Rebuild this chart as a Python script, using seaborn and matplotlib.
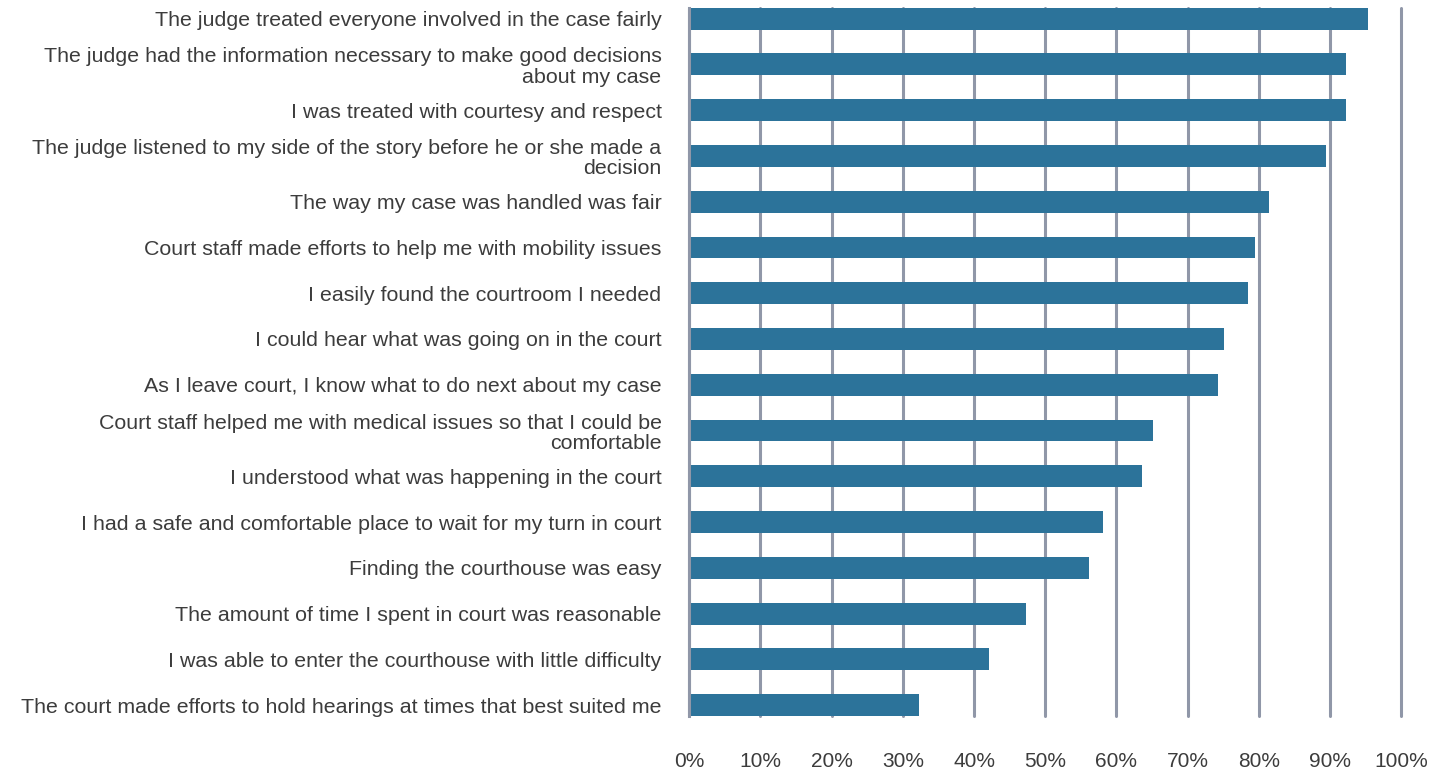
import matplotlib
matplotlib.use("Agg")
import matplotlib.pyplot as plt
import seaborn as sns
import pandas as pd
from matplotlib.ticker import FuncFormatter

statements = [
    "The judge treated everyone involved in the case fairly",
    "The judge had the information necessary to make good decisions\nabout my case",
    "I was treated with courtesy and respect",
    "The judge listened to my side of the story before he or she made a\ndecision",
    "The way my case was handled was fair",
    "Court staff made efforts to help me with mobility issues",
    "I easily found the courtroom I needed",
    "I could hear what was going on in the court",
    "As I leave court, I know what to do next about my case",
    "Court staff helped me with medical issues so that I could be\ncomfortable",
    "I understood what was happening in the court",
    "I had a safe and comfortable place to wait for my turn in court",
    "Finding the courthouse was easy",
    "The amount of time I spent in court was reasonable",
    "I was able to enter the courthouse with little difficulty",
    "The court made efforts to hold hearings at times that best suited me",
]
agree_pct = [95.3, 92.2, 92.2, 89.4, 81.4, 79.5, 78.4, 75.1,
             74.3, 65.1, 63.6, 58.1, 56.2, 47.3, 42.1, 32.2]
x_ticks = [0, 10, 20, 30, 40, 50, 60, 70, 80, 90, 100]

df = pd.DataFrame({"statement": statements, "pct": agree_pct})

sns.set_theme(style="white")
plt.rcParams["font.family"] = ["Liberation Sans", "DejaVu Sans"]

fig = plt.figure(figsize=(14.39, 7.72), dpi=100)
ax = fig.add_axes([0.4790, 0.0725, 0.4948, 0.9175])

bar_color = "#2c739a"
grid_color = "#9097a8"
text_color = "#3c3c3c"

sns.barplot(data=df, x="pct", y="statement", orient="h", color=bar_color,
            width=0.48, saturation=1, linewidth=0, ax=ax, zorder=3)

ax.set_xlim(0, 100)
ax.set_ylim(15.24, -0.24)
ax.set_xticks(x_ticks)
ax.xaxis.set_major_formatter(FuncFormatter(lambda v, p: f"{v:.0f}%"))
ax.grid(axis="x", color=grid_color, linewidth=2.2, zorder=0)
ax.grid(axis="y", visible=False)
ax.set_axisbelow(True)
for gl in ax.xaxis.get_gridlines():
    gl.set_clip_on(False)

for side in ["top", "right", "bottom"]:
    ax.spines[side].set_visible(False)
ax.spines["left"].set_color(grid_color)
ax.spines["left"].set_linewidth(2.2)
ax.spines["left"].set_zorder(4)

ax.tick_params(axis="x", length=0, pad=26, labelsize=15, labelcolor=text_color)
ax.tick_params(axis="y", length=0, pad=20, labelsize=15.4, labelcolor=text_color)
for lbl in ax.get_yticklabels():
    lbl.set_horizontalalignment("right")
    lbl.set_linespacing(1.1)

ax.set_xlabel("")
ax.set_ylabel("")

fig.savefig("out.png", dpi=100)
